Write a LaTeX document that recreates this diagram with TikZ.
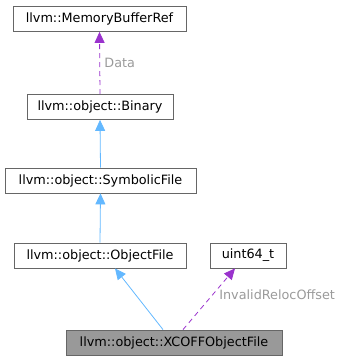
\documentclass[tikz,border=0pt]{standalone}
\usepackage{fontspec}
\setmainfont{DejaVu Sans}
\usetikzlibrary{arrows.meta}
\definecolor{edgeblue}{HTML}{63B8FF}
\definecolor{edgepurple}{HTML}{9A32CD}
\definecolor{boxline}{HTML}{666666}
\definecolor{labelgray}{HTML}{9A9A9A}
\definecolor{focusfill}{HTML}{999999}
\begin{document}
\begin{tikzpicture}[x=1pt,y=-1pt,
  cls/.style={draw=boxline, line width=0.8pt, fill=white, inner sep=0pt,
    minimum height=25pt, font=\fontsize{12.8}{14}\selectfont, anchor=center},
  focus/.style={cls, fill=focusfill},
  inherit/.style={draw=edgeblue, line width=0.8pt, -{Triangle[length=11pt,width=10pt]}},
  uses/.style={draw=edgepurple, line width=0.8pt, dash pattern=on 5pt off 4pt,
    -{Triangle[length=11pt,width=10pt]}},
  elabel/.style={text=labelgray, font=\fontsize{12.8}{14}\selectfont}]
\useasboundingbox (0,0) rectangle (345,361);
\node[cls, minimum width=173pt] (mbr) at (99.5,19) {llvm::MemoryBufferRef};
\node[cls, minimum width=146pt] (bin) at (100,107) {llvm::object::Binary};
\node[cls, minimum width=191pt] (sym) at (100.5,180.5) {llvm::object::SymbolicFile};
\node[cls, minimum width=172pt] (obj) at (100,255.5) {llvm::object::ObjectFile};
\node[cls, minimum width=76pt] (u64) at (248,255.5) {uint64\_t};
\node[focus, minimum width=216pt] (xc) at (174,342.5) {llvm::object::XCOFFObjectFile};
\draw[uses] (bin.north) -- (mbr.south) node[elabel, midway, right, xshift=1pt] {Data};
\draw[inherit] (sym.north) -- (bin.south);
\draw[inherit] (obj.north) -- (sym.south);
\draw[inherit] ([xshift=-11pt]xc.north) -- ([xshift=15pt]obj.south);
\draw[uses] ([xshift=9pt]xc.north) -- ([xshift=-13pt]u64.south)
  node[elabel, pos=0.55, anchor=west, xshift=4pt, yshift=1pt] {InvalidRelocOffset};
\end{tikzpicture}
\end{document}
